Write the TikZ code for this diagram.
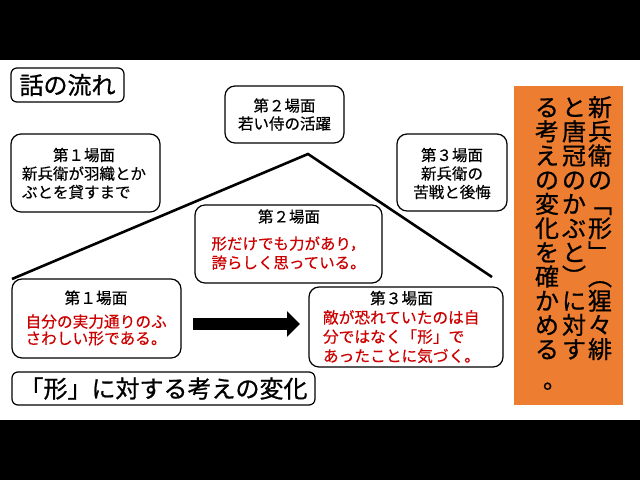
\documentclass[tikz,border=0pt]{standalone}
\usepackage{fontspec}
\newfontfamily\jp[FakeBold=0.35]{Noto Sans CJK JP}
\newfontfamily\jpb[FakeBold=0.8]{Noto Sans CJK JP}
\usetikzlibrary{arrows.meta}
\definecolor{orng}{HTML}{ED7D31}
\definecolor{rtext}{HTML}{CC0000}
\begin{document}
\begin{tikzpicture}[x=1pt,y=-1pt,
  box/.style={draw, line width=1.2pt, rounded corners=10pt, fill=white, inner sep=0pt},
  sbox/.style={box, rounded corners=6pt},
  txt/.style={inner sep=0pt, font=\jp\fontsize{15.5}{18.5}\selectfont},
  bigtxt/.style={inner sep=0pt, font=\jpb\fontsize{24}{26}\selectfont},
  vcol/.style={inner sep=0pt, anchor=north, align=center, font=\jpb\fontsize{24}{24.2}\selectfont},
  roof/.style={line width=2.6pt},
  bigarrow/.style={line width=12pt, -{Triangle[length=13pt,width=25pt]}}
]
\useasboundingbox (0,0) rectangle (640,480);
\fill[black] (0,0) rectangle (640,60);
\fill[black] (0,420) rectangle (640,480);

% roof line
\coordinate (tl) at (12,279);
\coordinate (tp) at (308,154);
\coordinate (tr) at (492,277);
\draw[roof] (tl) -- (tp) -- (tr);

% title
\node[sbox, minimum width=113pt, minimum height=34pt] (title) at (67.5,85) {};
\node[bigtxt] (titlet) at (67.5,85) {話の流れ};

% upper row
\node[box, minimum width=149pt, minimum height=78pt] (s1u) at (85.5,173) {};
\node[txt, text width=124pt, align=left] (s1ut) at (84,173.5)
  {\makebox[\linewidth]{第１場面}\\新兵衛が羽織とか\\ぶとを貸すまで};

\node[box, minimum width=119pt, minimum height=57pt] (s2u) at (284.5,114.5) {};
\node[txt, align=center, font=\jp\fontsize{15.5}{18}\selectfont] (s2ut) at (284.5,114.5)
  {第２場面\\若い侍の活躍};

\node[box, minimum width=110pt, minimum height=77pt] (s3u) at (452,172.5) {};
\node[txt, align=center] (s3ut) at (452,173.5)
  {第３場面\\新兵衛の\\苦戦と後悔};

% middle
\node[box, minimum width=187pt, minimum height=78pt] (s2m) at (288.5,244) {};
\node[txt, text width=155pt, align=left, font=\jp\fontsize{15.5}{19}\selectfont] (s2mt) at (289,239.5)
  {\makebox[\linewidth]{第２場面}\\[8pt]\color{rtext}形だけでも力があり，\\誇らしく思っている。};

% lower row
\node[box, minimum width=169pt, minimum height=79pt] (s1l) at (96.5,318.5) {};
\node[txt, text width=141pt, align=left, font=\jp\fontsize{15.7}{16.7}\selectfont] (s1lt) at (96,318)
  {\makebox[\linewidth]{第１場面}\\[7pt]\color{rtext}自分の実力通りのふ\\さわしい形である。};

\node[box, minimum width=194pt, minimum height=80pt] (s3l) at (406,327) {};
\node[txt, text width=157pt, align=left, font=\jp\fontsize{15.7}{19.2}\selectfont] (s3lt) at (401.5,327)
  {\makebox[\linewidth]{第３場面}\\\color{rtext}敵が恐れていたのは自\\分ではなく「形」で\\あったことに気づく。};

\coordinate (a1) at (193,324);
\coordinate (a2) at (300,324);
\draw[bigarrow] (a1) -- (a2);

% bottom caption
\node[sbox, minimum width=303pt, minimum height=33pt] (chg) at (163.5,388.5) {};
\node[bigtxt] (chgt) at (163.5,388.5) {「形」に対する考えの変化};

% orange vertical box
\node[fill=orng, inner sep=0pt, minimum width=109pt, minimum height=319pt] (ob) at (568.5,245.5) {};
\node[vcol] (c1) at (600,95) {\rule{0pt}{21pt}新\\兵\\衛\\の\\﹁\\形\\﹂\\︵\\猩\\々\\緋};
\node[vcol] (c2) at (574,95) {\rule{0pt}{21pt}と\\唐\\冠\\の\\か\\ぶ\\と\\︶\\に\\対\\す};
\node[vcol] (c3) at (547,95) {\rule{0pt}{21pt}る\\考\\え\\の\\変\\化\\を\\確\\か\\め\\る\\[6pt]\makebox[1em][l]{\hspace{0.33em}。}};
\end{tikzpicture}
\end{document}
